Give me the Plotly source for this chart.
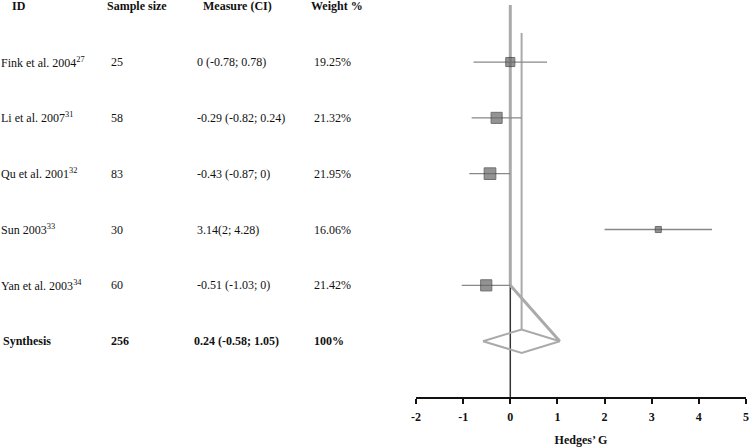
import plotly.graph_objects as go

# study data
studies = ["Fink et al. 2004<sup>27</sup>", "Li et al. 2007<sup>31</sup>", "Qu et al. 2001<sup>32</sup>",
           "Sun 2003<sup>33</sup>", "Yan et al. 2003<sup>34</sup>"]
sample_size = [25, 58, 83, 30, 60]
effect = [0, -0.29, -0.43, 3.14, -0.51]
ci_low = [-0.78, -0.82, -0.87, 2, -1.03]
ci_high = [0.78, 0.24, 0, 4.28, 0]
weights = [19.25, 21.32, 21.95, 16.06, 21.42]
measure_text = ["0 (-0.78; 0.78)", "-0.29 (-0.82; 0.24)", "-0.43 (-0.87; 0)", "3.14(2; 4.28)", "-0.51 (-1.03; 0)"]

synth_n = 256
synth_effect = 0.24
synth_low = -0.58
synth_high = 1.05
synth_text = "0.24 (-0.58; 1.05)"

tick_vals = [-2, -1, 0, 1, 2, 3, 4, 5]
tick_text = ["-2", "-1", "0", "1", "2", "3", "4", "5"]

W, H = 752, 448
FONT = "Liberation Serif"
rows = list(range(1, len(studies) + 1))
synth_row = len(studies) + 1
half_h = 0.21

fig = go.Figure()

# null line (x=0): light thick part above the last study, dark below
fig.add_trace(go.Scatter(x=[0, 0], y=[-0.02, rows[-1]], mode="lines",
                         line=dict(color="#aaaaaa", width=3), hoverinfo="skip"))
fig.add_trace(go.Scatter(x=[0, 0], y=[rows[-1], synth_row + 1], mode="lines",
                         line=dict(color="#333333", width=1.5), hoverinfo="skip"))
# pooled-effect line
fig.add_trace(go.Scatter(x=[synth_effect, synth_effect], y=[0.48, synth_row - half_h], mode="lines",
                         line=dict(color="#aaaaaa", width=2), hoverinfo="skip"))
# diagonal connector
fig.add_trace(go.Scatter(x=[0, synth_high], y=[rows[-1], synth_row], mode="lines",
                         line=dict(color="#aaaaaa", width=3), hoverinfo="skip"))

# confidence intervals
for r, lo, hi in zip(rows, ci_low, ci_high):
    fig.add_trace(go.Scatter(x=[lo, hi], y=[r, r], mode="lines",
                             line=dict(color="#888888", width=1.3), hoverinfo="skip"))

# squares sized by weight
sizes = [6 + (w - 16) * 0.95 for w in weights]
fig.add_trace(go.Scatter(x=effect, y=rows, mode="markers", hoverinfo="skip",
                         marker=dict(symbol="square", size=sizes, color="#666666",
                                     line=dict(color="#333333", width=1))))

# diamond for the synthesis
fig.add_trace(go.Scatter(x=[synth_low, synth_effect, synth_high, synth_effect, synth_low],
                         y=[synth_row, synth_row - half_h, synth_row, synth_row + half_h, synth_row],
                         mode="lines", line=dict(color="#aaaaaa", width=2), hoverinfo="skip"))

# table text
TXT = dict(family=FONT, size=12, color="#111111")
col_x = [-1, 109, 195, 312]
header = ["ID", "Sample size", "Measure (CI)", "Weight %"]
header_x = [10, 105, 201, 309]
for hx, h in zip(header_x, header):
    fig.add_annotation(x=hx / W, y=0, xref="paper", yref="y", text="<b>" + h + "</b>", font=TXT,
                       showarrow=False, xanchor="left", yanchor="middle")
for r, s, n, m, w in zip(rows, studies, sample_size, measure_text, weights):
    for cx, t in zip(col_x, [s, str(n), m, f"{w:.2f}%"]):
        fig.add_annotation(x=cx / W, y=r, xref="paper", yref="y", text=t, font=TXT,
                           showarrow=False, xanchor="left", yanchor="middle")
for cx, t in zip([1, 109, 192, 312], ["Synthesis", str(synth_n), synth_text, "100%"]):
    fig.add_annotation(x=cx / W, y=synth_row, xref="paper", yref="y", text="<b>" + t + "</b>",
                       font=TXT, showarrow=False, xanchor="left", yanchor="middle")

fig.update_layout(
    width=W, height=H, showlegend=False,
    plot_bgcolor="white", paper_bgcolor="white",
    margin=dict(l=0, r=0, t=0, b=51, autoexpand=False),
    font=dict(family=FONT, size=12, color="#111111"),
    xaxis=dict(domain=[416 / W, 746 / W], range=[-2, 5], tickvals=tick_vals,
               ticktext=["<b>" + t + "</b>" for t in tick_text], ticklabelstandoff=3,
               showline=True, linecolor="#111111", linewidth=1.5, ticks="outside", ticklen=5,
               tickcolor="#111111", tickwidth=1.5, showgrid=False, zeroline=False,
               tickfont=dict(family=FONT, size=12, color="#111111"),
               title=dict(text="<b>Hedges’ G</b>", font=dict(family=FONT, size=12), standoff=12)),
    yaxis=dict(range=[synth_row + 1, -0.111], visible=False, showgrid=False, zeroline=False),
)

fig.write_html("out.html", config={"displayModeBar": False},
               post_script="document.body.style.margin='0';")
